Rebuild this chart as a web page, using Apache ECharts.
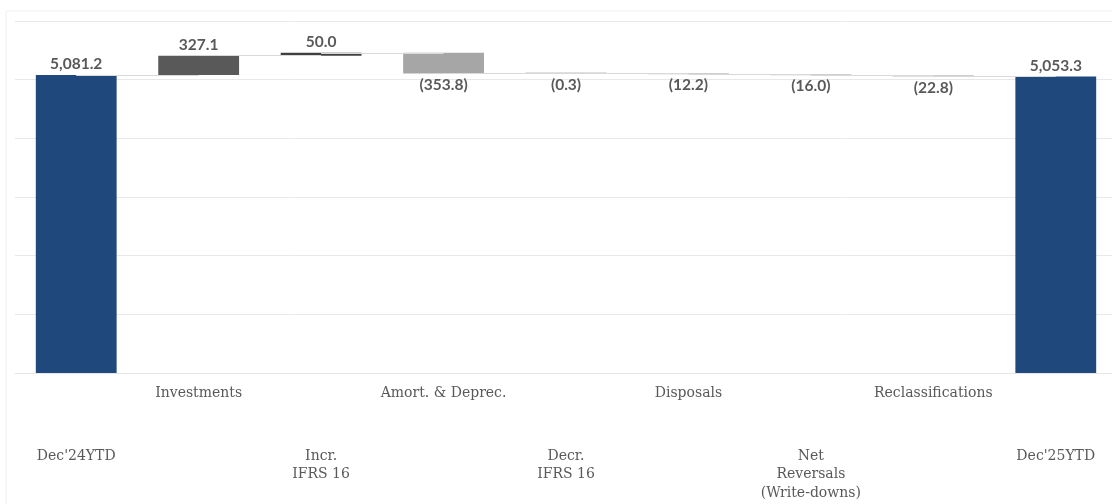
<!DOCTYPE html>
<html>
<head>
<meta charset="utf-8">
<script src="https://cdn.jsdelivr.net/npm/echarts@6/dist/echarts.min.js"></script>
<style>html,body{margin:0;padding:0;background:#fff;overflow:hidden;}#c{width:1120px;height:504px;}</style>
</head>
<body>
<div id="c"></div>
<script>
const categories = ["Dec'24YTD", "Investments", "Incr.\nIFRS 16", "Amort. & Deprec.", "Decr.\nIFRS 16", "Disposals", "Net\nReversals\n(Write-downs)", "Reclassifications", "Dec'25YTD"];
const values = [5081.2, 327.1, 50.0, -353.8, -0.3, -12.2, -16.0, -22.8, 5053.3];
const isTotal = [true, false, false, false, false, false, false, false, true];
const yTicks = [0, 1000, 2000, 3000, 4000, 5000, 6000];

const barColors = ['#1F497D', '#595959', '#404040', '#A6A6A6', '#BFBFBF', '#BFBFBF', '#BFBFBF', '#BFBFBF', '#1F497D'];

const base = [], height = [], levels = [];
let running = 0;
values.forEach((v, i) => {
  if (isTotal[i]) { base.push(0); height.push(v); running = v; }
  else if (v >= 0) { base.push(running); height.push(v); running += v; }
  else { running += v; base.push(running); height.push(-v); }
  levels.push(running);
});

function fmt(i) {
  const v = values[i];
  if (isTotal[i]) return v.toLocaleString('en-US', {minimumFractionDigits: 1, maximumFractionDigits: 1});
  if (v < 0) return '(' + Math.abs(v).toFixed(1) + ')';
  return v.toFixed(1);
}

const connectors = [];
for (let i = 0; i < categories.length - 1; i++) {
  connectors.push([{coord: [i, levels[i]]}, {coord: [i + 1, levels[i]]}]);
}

const chart = echarts.init(document.getElementById('c'), null, {renderer: 'canvas'});
const labelFont = {fontFamily: 'Lato', fontSize: 15.5, fontWeight: 'bold', color: '#595959'};
const catFont = {fontFamily: 'DejaVu Serif', fontSize: 14, color: '#595959'};
chart.setOption({
  animation: false,
  graphic: [{type: 'rect', shape: {x: 6, y: 11, width: 1120, height: 500}, style: {fill: 'none', stroke: '#f0f0f0', lineWidth: 1}, silent: true, z: -1}],
  grid: {left: 15, top: 21, height: 352, width: 1102, containLabel: false},
  xAxis: [{
    type: 'category', data: categories, position: 'bottom',
    axisLine: {show: true, lineStyle: {color: '#e6e6e6'}}, axisTick: {show: false},
    axisLabel: {interval: 0, margin: 13, ...catFont,
      formatter: (v, i) => (i % 2 === 1 ? v : '')}
  }, {
    type: 'category', data: categories, position: 'bottom',
    axisLine: {show: false}, axisTick: {show: false},
    axisLabel: {interval: 0, margin: 74, lineHeight: 18.5, ...catFont,
      formatter: (v, i) => (i % 2 === 0 ? v : '')}
  }],
  yAxis: {
    type: 'value', min: yTicks[0], max: yTicks[yTicks.length - 1], interval: 1000,
    axisLabel: {show: false}, axisLine: {show: false}, axisTick: {show: false},
    splitLine: {lineStyle: {color: '#e8e8e8'}}
  },
  series: [{
    type: 'bar', stack: 'w', data: base, z: 1, barWidth: '66%',
    itemStyle: {color: 'transparent'}, silent: true,
    markLine: {silent: true, symbol: ['none', 'none'], label: {show: false},
      lineStyle: {type: 'solid', color: '#d9d9d9', width: 1}, data: connectors}
  }, {
    type: 'bar', stack: 'w', z: 2, barWidth: '66%', barMinHeight: 1,
    data: height.map((h, i) => ({
      value: h,
      itemStyle: {color: barColors[i]},
      label: {show: true, position: (values[i] < 0 ? 'bottom' : 'top'), distance: 3,
        formatter: () => fmt(i), ...labelFont}
    }))
  }]
});
</script>
</body>
</html>
